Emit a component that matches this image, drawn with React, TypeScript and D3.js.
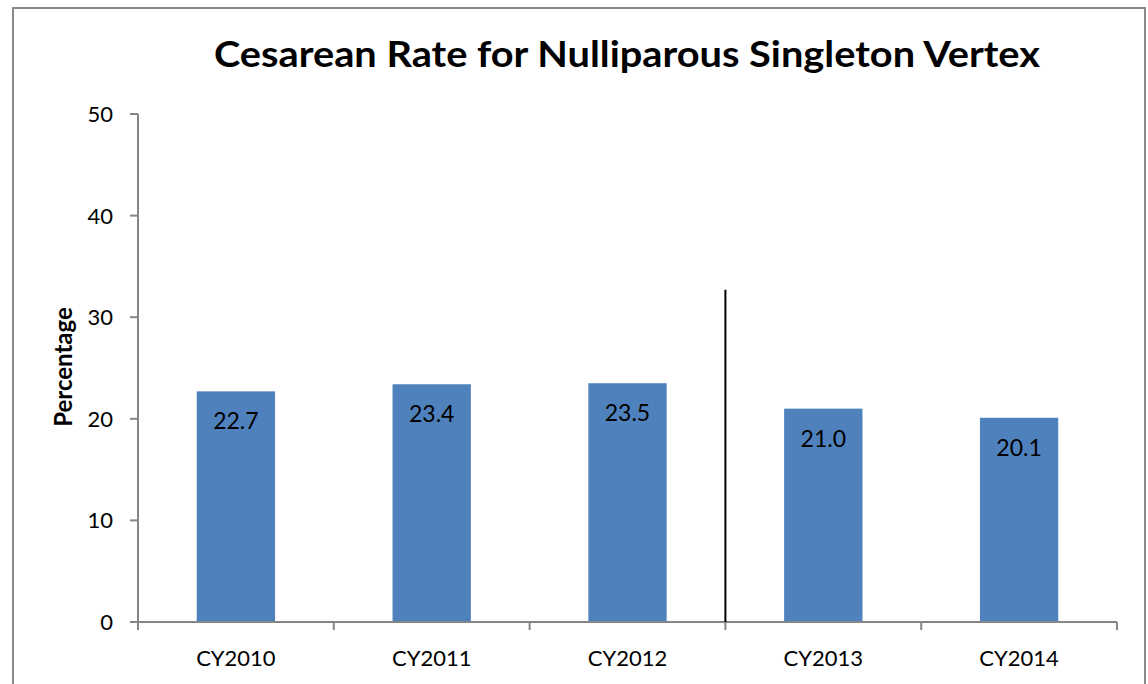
import React from "react";
import * as d3 from "d3";

const categories = ["CY2010", "CY2011", "CY2012", "CY2013", "CY2014"];
const values = [22.7, 23.4, 23.5, 21.0, 20.1];
const yTicks = [0, 10, 20, 30, 40, 50];
const separatorAfter = "CY2012";
const separatorTop = 32.7;

const W = 1148, H = 684;
const M = { left: 138, right: 1117, top: 114, bottom: 622 };
const FONT = "Lato, 'Open Sans', sans-serif";

export default function App() {
  const x = d3.scaleBand().domain(categories).range([M.left, M.right]).paddingInner(0).paddingOuter(0);
  const y = d3.scaleLinear().domain([0, 50]).range([M.bottom, M.top]);
  const bw = x.bandwidth() * 0.4;
  const sepX = (x(separatorAfter) as number) + x.bandwidth();
  const axisColor = "#868686";
  return (
    <svg width={W} height={H} style={{ position: "absolute", left: 0, top: 0, background: "#fff" }}>
      <rect x={13} y={8} width={1132} height={690} fill="#fff" stroke="#8a8a8a" strokeWidth={2} />
      <text x={627} y={67} textAnchor="middle" fontFamily={FONT} fontWeight="bold" fontSize={37} textLength={826} lengthAdjust="spacingAndGlyphs" fill="#000">
        Cesarean Rate for Nulliparous Singleton Vertex
      </text>
      {categories.map((c, i) => {
        const cx = (x(c) as number) + x.bandwidth() / 2;
        return (
          <g key={c}>
            <rect x={cx - bw / 2} y={y(values[i])} width={bw} height={y(0) - y(values[i])} fill="#4F81BD" />
            <text x={cx} y={y(values[i]) + 38} textAnchor="middle" fontFamily={FONT} fontSize={23} fill="#000">
              {values[i].toFixed(1)}
            </text>
            <text x={cx} y={666} textAnchor="middle" fontFamily={FONT} fontSize={22} fill="#000">
              {c}
            </text>
          </g>
        );
      })}
      {/* y axis */}
      <line x1={M.left} x2={M.left} y1={y(50)} y2={y(0)} stroke={axisColor} strokeWidth={2} />
      {yTicks.map((t) => (
        <g key={t}>
          <line x1={M.left - 8} x2={M.left} y1={y(t)} y2={y(t)} stroke={axisColor} strokeWidth={2} />
          <text x={M.left - 25} y={y(t) + 8} textAnchor="end" fontFamily={FONT} fontSize={22} fill="#000">
            {t}
          </text>
        </g>
      ))}
      {/* x axis */}
      <line x1={M.left - 8} x2={M.right} y1={y(0)} y2={y(0)} stroke={axisColor} strokeWidth={2} />
      {categories.map((c) => (
        <line key={c} x1={(x(c) as number) + x.bandwidth()} x2={(x(c) as number) + x.bandwidth()} y1={y(0)} y2={y(0) + 8} stroke={axisColor} strokeWidth={2} />
      ))}
      <line x1={M.left} x2={M.left} y1={y(0)} y2={y(0) + 8} stroke={axisColor} strokeWidth={2} />
      <line x1={sepX} x2={sepX} y1={y(separatorTop)} y2={y(0)} stroke="#000" strokeWidth={2} />
      <text transform={`translate(72,367) rotate(-90)`} textAnchor="middle" fontFamily={FONT} fontWeight="bold" fontSize={24} fill="#000">
        Percentage
      </text>
    </svg>
  );
}
